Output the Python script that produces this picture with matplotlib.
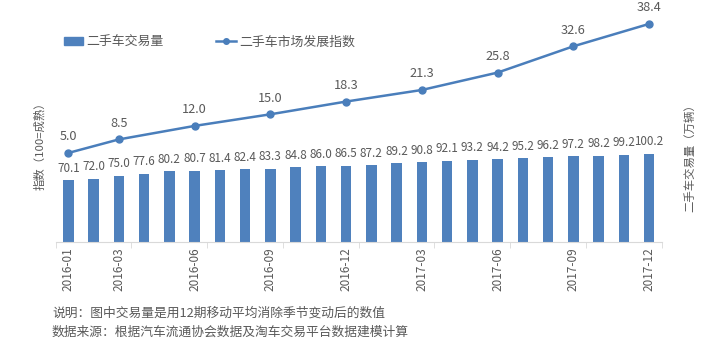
import numpy as np
import matplotlib
matplotlib.use("Agg")
from matplotlib import pyplot as plt
from matplotlib.patches import Patch
from matplotlib.lines import Line2D

plt.rcParams['font.family'] = ['Noto Sans CJK SC', 'DejaVu Sans']

# monthly trade volume (10k vehicles), 2016-01 .. 2017-12
months = [f"{y}-{m:02d}" for y in (2016, 2017) for m in range(1, 13)]
volume = [70.1, 72.0, 75.0, 77.6, 80.2, 80.7, 81.4, 82.4, 83.3, 84.8, 86.0, 86.5,
          87.2, 89.2, 90.8, 92.1, 93.2, 94.2, 95.2, 96.2, 97.2, 98.2, 99.2, 100.2]

# market development index, quarterly points
index_months = ["2016-01", "2016-03", "2016-06", "2016-09", "2016-12",
                "2017-03", "2017-06", "2017-09", "2017-12"]
index_values = [5.0, 8.5, 12.0, 15.0, 18.3, 21.3, 25.8, 32.6, 38.4]

BAR_C = "#4F81BD"
LINE_C = "#4A7EBB"
TXT_C = "#595959"
AXIS_C = "#D9D9D9"

fig = plt.figure(figsize=(7.05, 3.5), dpi=100)
W, H = 705, 350
x0, x1, ytop, ybot = 55.7, 661.7, 10, 242
ax = fig.add_axes([x0 / W, 1 - ybot / H, (x1 - x0) / W, (ybot - ytop) / H])

x = np.arange(len(months))
ax.bar(x, volume, width=0.41, color=BAR_C, zorder=2)
for xi, v in zip(x, volume):
    ax.annotate(f"{v:.1f}", (xi, v), xytext=(0, 4), textcoords="offset points",
                ha="center", va="bottom", fontsize=8.4, color=TXT_C)
ax.set_xlim(-0.5, len(months) - 0.5)
ax.set_ylim(0, 263.6)

for s in ("top", "right", "left"):
    ax.spines[s].set_visible(False)
ax.spines["bottom"].set_color(AXIS_C)
ax.set_yticks([])

tick_pos = [months.index(m) for m in index_months]
ax.set_xticks(tick_pos)
ax.set_xticklabels(index_months, rotation=90, fontsize=8.5, color=TXT_C)
ax.tick_params(axis="x", which="major", length=0, pad=4)
ax.set_xticks(np.arange(-0.5, len(months), 3), minor=True)
ax.tick_params(axis="x", which="minor", length=4, color=AXIS_C)

ax2 = ax.twinx()
ix = [months.index(m) for m in index_months]
ax2.plot(ix, index_values, color=LINE_C, lw=1.8, marker="o", ms=5, zorder=3)
for xi, v in zip(ix, index_values):
    ax2.annotate(f"{v:.1f}", (xi, v), xytext=(0, 7), textcoords="offset points",
                 ha="center", va="bottom", fontsize=9.2, color=TXT_C)
ax2.set_ylim(-18.05, 42.0)
ax2.set_yticks([])
for s in ax2.spines.values():
    s.set_visible(False)

# axis titles
fig.text(40 / W, 1 - 143 / H, "指数（100=成熟）", rotation=90, ha="center", va="center",
         fontsize=8.2, color=TXT_C)
fig.text(690 / W, 1 - 155 / H, "二手车交易量（万辆）", rotation=90, ha="center", va="center",
         fontsize=8.2, color=TXT_C)

handles = [Patch(color=BAR_C), Line2D([], [], color=LINE_C, lw=1.8, marker="o", ms=4)]
fig.legend(handles, ["二手车交易量", "二手车市场发展指数"], loc="center left",
           bbox_to_anchor=(52 / W, 1 - 42 / H), ncol=2, frameon=False, fontsize=9.3,
           handlelength=1.5, handleheight=0.55, handletextpad=0.25, columnspacing=4.1,
           labelcolor=TXT_C)

fig.text(52 / W, 1 - 313 / H, "说明：图中交易量是用12期移动平均消除季节变动后的数值",
         fontsize=9.2, color=TXT_C, va="center")
fig.text(52 / W, 1 - 332 / H, "数据来源：根据汽车流通协会数据及淘车交易平台数据建模计算",
         fontsize=9.2, color=TXT_C, va="center")

fig.savefig("out.png", dpi=100)
